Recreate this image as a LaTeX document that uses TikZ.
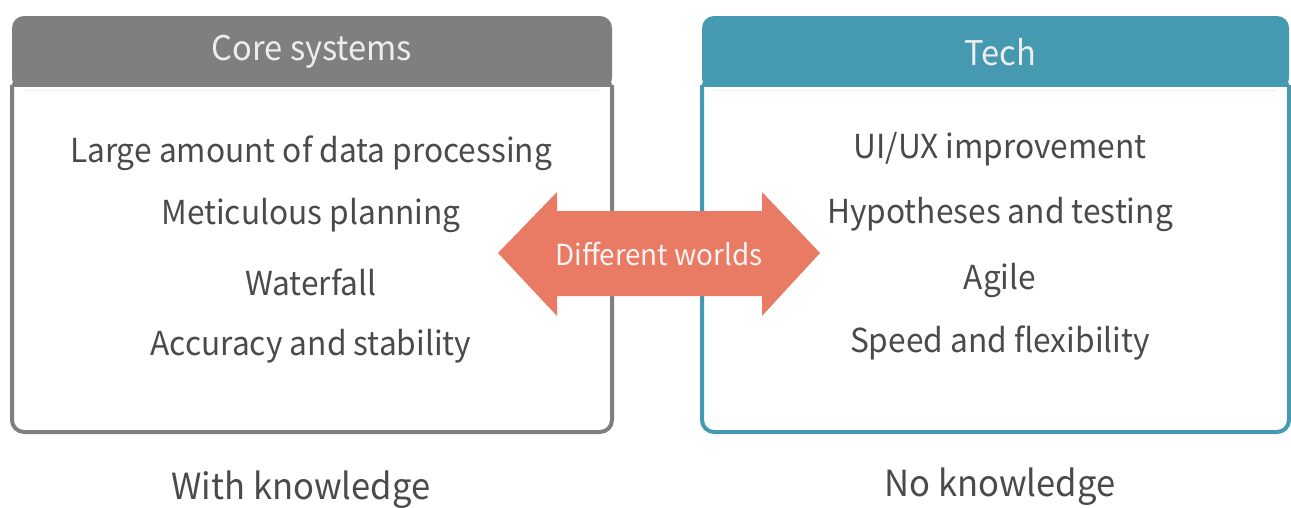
\documentclass[tikz,border=0pt]{standalone}
\usepackage{fontspec}
\setmainfont{Noto Sans CJK JP}[FakeStretch=0.96]
\definecolor{coregray}{HTML}{7F7F7F}
\definecolor{techteal}{HTML}{4599B0}
\definecolor{arrowred}{HTML}{E97A64}
\definecolor{txtgray}{HTML}{4A4A4A}
\begin{document}
\begin{tikzpicture}[x=1pt,y=-1pt,
  item/.style={text=txtgray,font=\fontsize{33}{36}\selectfont,anchor=center},
  head/.style={text=white!93!black,font=\fontsize{34}{38}\selectfont,anchor=center},
  foot/.style={text=txtgray,font=\fontsize{36}{40}\selectfont,anchor=center},
  arrtext/.style={text=white!92!arrowred,font=\fontsize{29}{32}\selectfont,anchor=center}]
\useasboundingbox (0,0) rectangle (1291,507);
% left box
\fill[coregray,rounded corners=12pt] (12,16) rectangle (612,90);
\fill[white] (14,85) rectangle (610,90);
\draw[coregray,line width=4pt,rounded corners=12pt] (12,85) -- (12,432) -- (612,432) -- (612,85);
\draw[coregray,line width=4pt] (12,85) -- (612,85);
% right box
\fill[techteal,rounded corners=12pt] (702,16) rectangle (1289,90);
\fill[white] (704,85) rectangle (1287,90);
\draw[techteal,line width=4pt,rounded corners=12pt] (702,85) -- (702,432) -- (1289,432) -- (1289,85);
\draw[techteal,line width=4pt] (702,85) -- (1289,85);
% headers
\node[head] (hcore) at (312,52) {Core systems};
\node[head] (htech) at (1000,52) {Tech};
% items left
\node[item] (l1) at (311,153) {Large amount of data processing};
\node[item] (l2) at (311,215) {Meticulous planning};
\node[item] (l3) at (311,282) {Waterfall};
\node[item] (l4) at (311,346) {Accuracy and stability};
% items right
\node[item] (r1) at (1000,149) {UI/UX improvement};
\node[item] (r2) at (1000,214) {Hypotheses and testing};
\node[item] (r3) at (1000,280) {Agile};
\node[item] (r4) at (1000,343) {Speed and flexibility};
% arrow
\fill[arrowred] (498,253) -- (557,192) -- (557,211) -- (762,211) -- (762,192) -- (820,253)
  -- (762,316) -- (762,296) -- (557,296) -- (557,316) -- cycle;
\node[arrtext] (dw) at (659,254) {Different worlds};
% footers
\node[foot] (fl) at (301,490) {With knowledge};
\node[foot] (fr) at (1000,487) {No knowledge};
\end{tikzpicture}
\end{document}
